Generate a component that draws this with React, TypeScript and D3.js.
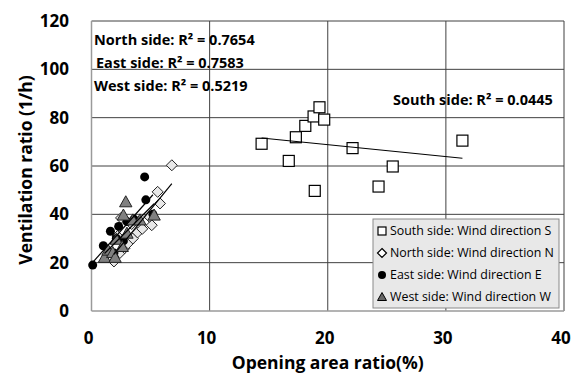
import * as d3 from "d3";

const southX = [14.4, 16.7, 17.3, 18.1, 18.8, 19.3, 19.7, 18.9, 22.1, 24.3, 25.5, 31.4];
const southY = [69.2, 62.1, 71.9, 76.6, 80.5, 84.3, 79.2, 49.7, 67.4, 51.5, 59.8, 70.5];

const northX = [1.9, 2.4, 2.8, 3.1, 3.5, 3.9, 4.3, 5.1, 4.9, 5.8, 5.6, 6.8, 2.5, 3.4, 2.2];
const northY = [20.5, 24, 26, 28, 30, 32.5, 34, 35.5, 39, 44.5, 49.3, 60.3, 38.5, 36, 31];

const eastX = [0.1, 1.0, 1.6, 1.9, 2.3, 2.7, 3.0, 3.6, 4.6, 4.5, 5.2, 2.1];
const eastY = [19, 27, 33, 24, 35, 29, 37, 38, 46, 55.5, 40, 30];

const westX = [1.1, 1.4, 1.8, 2.1, 2.6, 2.9, 2.7, 3.0, 3.5, 4.1, 5.3, 2.0];
const westY = [22, 25, 24, 29.5, 26.5, 45, 39.5, 32, 37.5, 37.5, 39.5, 22];

const xTicks = [0, 10, 20, 30, 40];
const yTicks = [0, 20, 40, 60, 80, 100, 120];

const legendLabels = [
  "South side: Wind direction S",
  "North side: Wind direction N",
  "East side: Wind direction E",
  "West side: Wind direction W",
];

const W = 577;
const H = 376;
const m = { left: 91.5, right: 13, top: 21, bottom: 65 };

// least squares line over the data range (like an Excel trendline)
function fit(xs: number[], ys: number[]) {
  const mx = d3.mean(xs)!;
  const my = d3.mean(ys)!;
  let sxy = 0;
  let sxx = 0;
  xs.forEach((x, i) => {
    sxy += (x - mx) * (ys[i] - my);
    sxx += (x - mx) * (x - mx);
  });
  const b = sxy / sxx;
  const a = my - b * mx;
  const [x0, x1] = d3.extent(xs) as [number, number];
  return [
    [x0, a + b * x0],
    [x1, a + b * x1],
  ];
}

export default function App() {
  const x = d3.scaleLinear().domain([0, 40]).range([m.left, W - m.right]);
  const y = d3.scaleLinear().domain([0, 120]).range([H - m.bottom, m.top]);
  const line = d3
    .line<number[]>()
    .x((d) => x(d[0]))
    .y((d) => y(d[1]));

  const zip = (xs: number[], ys: number[]) => xs.map((v, i) => [v, ys[i]]);
  const font = "'Open Sans', sans-serif";
  const grid = "#404040";

  const sq = 11;
  const square = (cx: number, cy: number, s: number, k: string) => (
    <rect key={k} x={cx - s / 2} y={cy - s / 2} width={s} height={s} fill="#fff" stroke="#000" strokeWidth={1.2} />
  );
  const diamond = (cx: number, cy: number, r: number, k: string) => (
    <path key={k} d={`M${cx},${cy - r}L${cx + r},${cy}L${cx},${cy + r}L${cx - r},${cy}Z`} fill="#e8e8e8" stroke="#222" strokeWidth={1} />
  );
  const circle = (cx: number, cy: number, r: number, k: string) => (
    <circle key={k} cx={cx} cy={cy} r={r} fill="#000" />
  );
  const tri = (cx: number, cy: number, r: number, k: string) => (
    <path key={k} d={`M${cx},${cy - r}L${cx + r * 0.95},${cy + r * 0.7}L${cx - r * 0.95},${cy + r * 0.7}Z`} fill="#808080" stroke="#222" strokeWidth={1} />
  );

  const lg = { x: 373, y: 219, w: 186, h: 89 };

  return (
    <svg width={W} height={H} style={{ position: "absolute", left: 0, top: 0 }}>
      <rect width={W} height={H} fill="#fff" />
      {/* grid */}
      {xTicks.slice(1, -1).map((t) => (
        <line key={"gx" + t} x1={x(t)} x2={x(t)} y1={y(0)} y2={y(120)} stroke={grid} strokeWidth={1} />
      ))}
      {yTicks.slice(1).map((t) => (
        <line key={"gy" + t} x1={x(0)} x2={x(40)} y1={y(t)} y2={y(t)} stroke={grid} strokeWidth={1} />
      ))}
      <line x1={x(40)} x2={x(40)} y1={y(0)} y2={y(120)} stroke={grid} />
      <line x1={x(0)} x2={x(0)} y1={y(0)} y2={y(120)} stroke="#9a9a9a" strokeWidth={1.5} />
      <line x1={x(0)} x2={x(40)} y1={y(0)} y2={y(0)} stroke="#9a9a9a" strokeWidth={1.5} />

      {/* ticks */}
      {yTicks.map((t) => (
        <text key={"ty" + t} x={69} y={y(t)} dy="0.36em" textAnchor="end" fontFamily={font} fontWeight="bold" fontSize={17}>
          {t}
        </text>
      ))}
      {xTicks.map((t) => (
        <text key={"tx" + t} x={x(t) - 3} y={344} textAnchor="middle" fontFamily={font} fontWeight="bold" fontSize={17}>
          {t}
        </text>
      ))}
      <text x={(x(0) + x(40)) / 2} y={369} textAnchor="middle" fontFamily={font} fontWeight="bold" fontSize={17.5}>
        Opening area ratio(%)
      </text>
      <text transform={`translate(32,${(y(0) + y(120)) / 2 + 4}) rotate(-90)`} textAnchor="middle" fontFamily={font} fontWeight="bold" fontSize={17.5}>
        Ventilation ratio (1/h)
      </text>

      {/* points */}
      {zip(southX, southY).map((d, i) => square(x(d[0]), y(d[1]), sq, "s" + i))}
      {zip(northX, northY).map((d, i) => diamond(x(d[0]), y(d[1]), 5.5, "n" + i))}
      {zip(eastX, eastY).map((d, i) => circle(x(d[0]), y(d[1]), 4.5, "e" + i))}
      {zip(westX, westY).map((d, i) => tri(x(d[0]), y(d[1]), 6.5, "w" + i))}

      {/* trend lines */}
      {[fit(southX, southY), fit(northX, northY), fit(eastX, eastY), fit(westX, westY)].map((p, i) => (
        <path key={"l" + i} d={line(p)!} fill="none" stroke="#000" strokeWidth={1.2} />
      ))}

      {/* R2 labels */}
      <g fontFamily={font} fontWeight="bold" fontSize={14.5}>
        <text x={94} y={45}>North side: R² = 0.7654</text>
        <text x={96} y={68}>East side: R² = 0.7583</text>
        <text x={94} y={91}>West side: R² = 0.5219</text>
        <text x={393} y={105}>South side: R² = 0.0445</text>
      </g>

      {/* legend */}
      <rect x={lg.x} y={lg.y} width={lg.w} height={lg.h} fill="#e8e8e8" stroke="#8a8a8a" />
      {legendLabels.map((l, i) => {
        const cy = 231 + i * 22;
        const cx = 382;
        return (
          <g key={"lg" + i}>
            {i === 0 && <rect x={cx - 4} y={cy - 4} width={8} height={8} fill="#fff" stroke="#000" strokeWidth={1.2} />}
            {i === 1 && <path d={`M${cx},${cy - 4.5}L${cx + 4.5},${cy}L${cx},${cy + 4.5}L${cx - 4.5},${cy}Z`} fill="#fff" stroke="#000" strokeWidth={1.2} />}
            {i === 2 && <circle cx={cx} cy={cy} r={4} fill="#000" />}
            {i === 3 && <path d={`M${cx},${cy - 4.5}L${cx + 4.5},${cy + 3.5}L${cx - 4.5},${cy + 3.5}Z`} fill="#666" stroke="#000" />}
            <text x={390} y={cy} dy="0.35em" fontFamily={font} fontSize={12.4}>
              {l}
            </text>
          </g>
        );
      })}
    </svg>
  );
}
